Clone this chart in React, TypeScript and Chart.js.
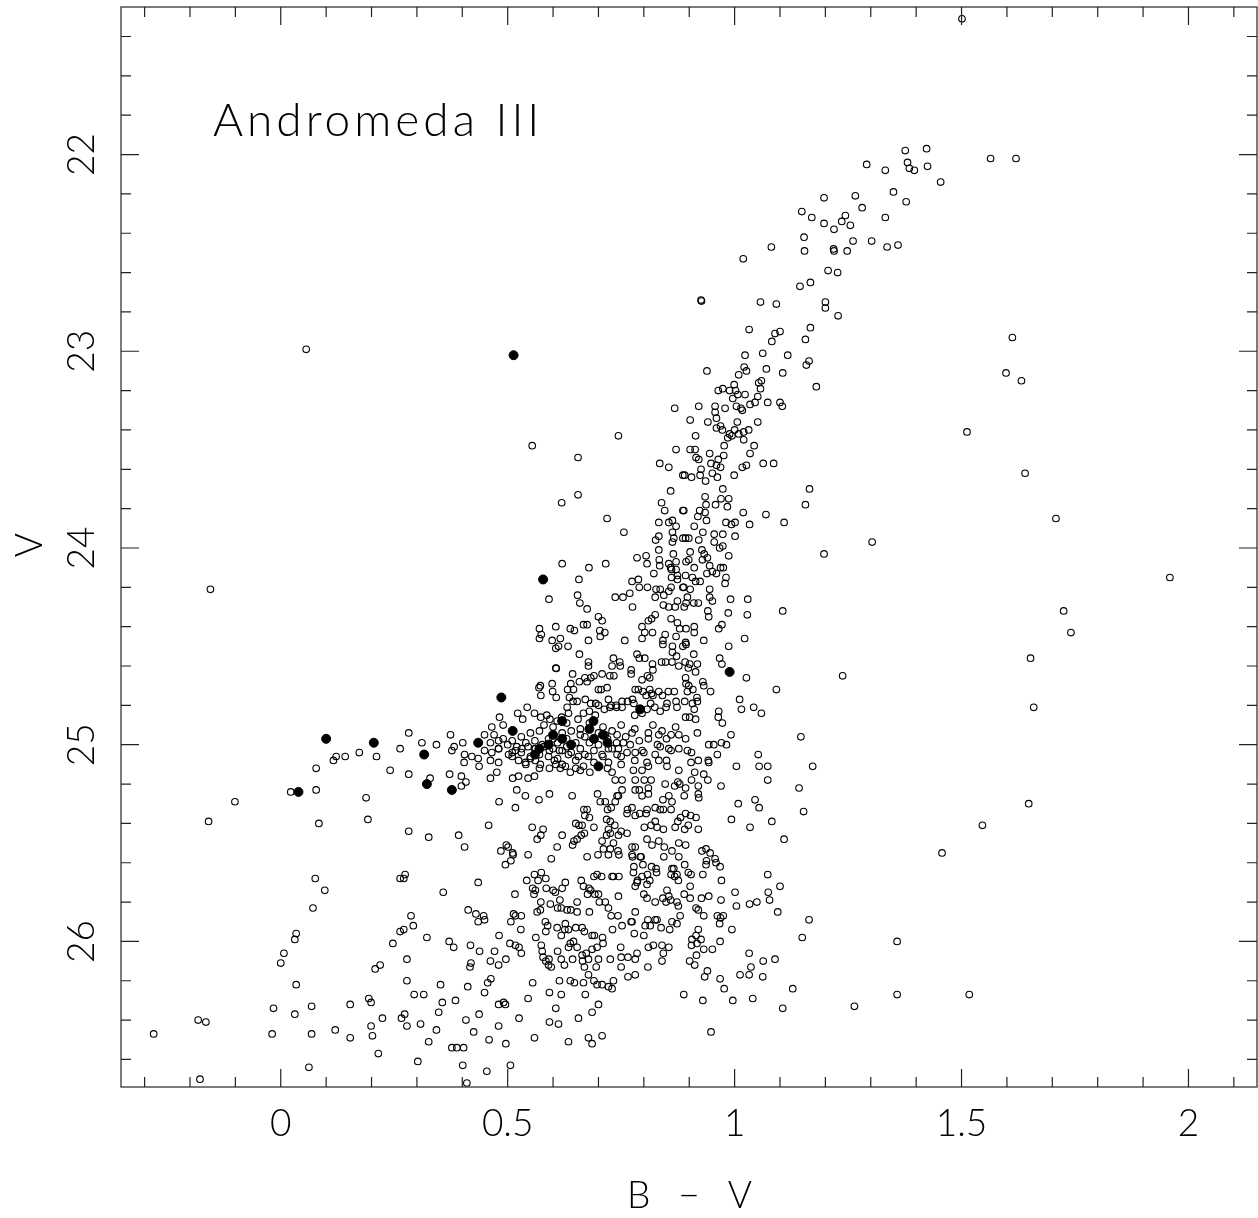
import React, { useEffect, useRef } from "react";
import { Chart, registerables } from "chart.js";
Chart.register(...registerables);

// Axis ranges (B-V horizontal, V vertical reversed)
const X_MIN = -0.352;
const X_MAX = 2.151;
const Y_MIN = 21.25;
const Y_MAX = 26.74;

const xMajorTicks = [0, 0.5, 1, 1.5, 2];
const yMajorTicks = [22, 23, 24, 25, 26];
const xTickLabels = ["0", "0.5", "1", "1.5", "2"];
const yTickLabels = ["22", "23", "24", "25", "26"];
const titleText = "Andromeda III";
const xTitle = "B \u2212 V";
const yTitle = "V";

// ---- open circles: [B-V, V] ----
const upperGiants: number[][] = [
  [1.501,21.31],[1.376,21.98],[1.423,21.97],[1.291,22.05],[1.332,22.08],[1.381,22.04],[1.385,22.07],[1.396,22.08],
  [1.425,22.06],[1.454,22.14],[1.197,22.22],[1.266,22.21],[1.350,22.19],[1.378,22.24],[1.281,22.27],[1.148,22.29],
  [1.170,22.32],[1.244,22.31],[1.236,22.34],[1.255,22.36],[1.197,22.35],[1.219,22.38],[1.332,22.32],[1.153,22.42],
  [1.154,22.49],[1.218,22.48],[1.219,22.49],[1.248,22.49],[1.261,22.44],[1.302,22.44],[1.336,22.47],[1.360,22.46],
  [1.081,22.47],[1.019,22.53],[1.206,22.59],[1.227,22.60],[1.144,22.67],[1.167,22.65],[0.926,22.74],[0.927,22.745],
  [1.057,22.75],[1.092,22.76],[1.200,22.75],[1.200,22.78],[1.228,22.82],[1.032,22.89],[1.089,22.91],[1.100,22.90],
  [1.167,22.88],[1.156,22.94],[1.082,22.95],[1.023,23.02],[1.062,23.01],[1.117,23.02],[1.164,23.05],[1.158,23.07],
  [1.021,23.08],[1.564,22.02],[1.620,22.02],[1.612,22.93],[0.056,22.99],
];

const redOutliers: number[][] = [
  [1.598,23.11],[1.632,23.15],[1.512,23.41],[1.640,23.62],[1.708,23.85],[1.959,24.15],[1.725,24.32],[1.741,24.43],
  [1.652,24.56],[1.659,24.81],[1.648,25.30],[1.546,25.41],[1.517,26.27],[1.457,25.55],[1.358,26.00],[1.358,26.27],
  [1.264,26.33],[1.303,23.97],[1.238,24.65],[-0.155,24.21],[1.197,24.03],[1.165,23.70],[1.156,23.78],[1.180,23.18],
];

const midGiants: number[][] = [
  [0.939,23.10],[1.009,23.12],[1.026,23.10],[1.070,23.09],[1.106,23.11],[0.964,23.20],[0.974,23.19],[0.999,23.17],
  [0.989,23.20],[1.002,23.20],[1.053,23.16],[1.059,23.15],[1.057,23.19],[1.007,23.22],[1.023,23.22],[0.996,23.24],
  [1.051,23.23],[0.921,23.28],[0.957,23.28],[0.979,23.29],[1.004,23.28],[1.014,23.29],[1.017,23.30],[1.034,23.27],
  [1.045,23.26],[1.073,23.26],[1.100,23.26],[1.105,23.28],[0.957,23.31],[0.902,23.35],[0.941,23.36],[0.960,23.34],
  [1.006,23.36],[1.051,23.36],[0.969,23.38],[0.960,23.39],[0.973,23.40],[1.000,23.40],[1.031,23.40],[0.989,23.42],
  [1.009,23.42],[1.020,23.41],[0.985,23.44],[0.994,23.43],[1.020,23.45],[0.914,23.43],[0.977,23.48],[1.043,23.48],
  [0.902,23.50],[0.913,23.50],[0.945,23.52],[0.976,23.53],[1.034,23.52],[0.915,23.54],[0.921,23.55],[0.964,23.55],
  [0.948,23.57],[0.960,23.58],[0.969,23.59],[1.026,23.58],[1.017,23.59],[1.063,23.57],[1.086,23.57],[0.926,23.60],
  [0.890,23.63],[0.905,23.64],[0.924,23.63],[0.951,23.62],[0.962,23.64],[0.999,23.63],[0.936,23.66],[0.974,23.70],
  [0.935,23.74],[0.937,23.78],[0.958,23.78],[0.970,23.75],[0.987,23.75],[0.984,23.79],[0.923,23.81],[0.935,23.82],
  [0.919,23.84],[0.888,23.81],[1.019,23.82],[1.069,23.83],[1.109,23.87],[0.938,23.86],[0.981,23.87],[0.993,23.88],
  [1.001,23.87],[1.033,23.88],[0.911,23.89],[0.930,23.92],[0.955,23.93],[0.974,23.93],[1.001,23.94],[0.892,23.95],
  [0.899,23.95],[0.921,23.96],[0.955,23.97],[0.967,24.00],[0.974,23.99],[0.902,24.02],[0.928,24.01],[0.933,24.03],
  [0.940,24.05],[0.987,24.04],[0.893,24.07],[0.899,24.06],[0.911,24.10],[0.929,24.06],[0.945,24.09],[0.951,24.12],
  [0.960,24.13],[0.969,24.10],[0.975,24.10],[0.939,24.13],[0.892,24.14],[0.907,24.15],[0.914,24.17],[0.924,24.17],
  [0.981,24.15],[0.979,24.18],[0.888,24.20],[0.902,24.21],[0.945,24.21],[0.896,24.25],[0.945,24.25],[0.951,24.27],
  [0.893,24.28],[0.910,24.28],[0.920,24.28],[0.991,24.26],[1.029,24.26],[0.889,24.30],[0.941,24.32],[0.986,24.33],
  [1.028,24.34],[0.943,24.35],[1.106,24.32],[0.893,24.41],[0.911,24.40],[0.911,24.43],[0.965,24.41],[0.972,24.39],
  [1.022,24.46],[0.932,24.47],[0.892,24.48],[0.893,24.49],[0.987,24.50],[0.910,24.54],[0.967,24.56],[0.972,24.59],
  [1.026,24.66],[1.092,24.72],[0.891,24.58],[0.901,24.59],[0.918,24.59],[0.898,24.61],[0.914,24.63],[0.892,24.66],
  [0.893,24.69],[0.930,24.68],[0.932,24.70],[0.899,24.70],[0.908,24.72],[0.896,24.73],[0.947,24.73],[0.917,24.76],
  [0.918,24.78],[0.890,24.78],[0.907,24.79],[1.011,24.77],[1.015,24.82],[1.042,24.81],[1.059,24.84],[0.911,24.82],
  [0.892,24.86],[0.901,24.86],[0.914,24.87],[0.965,24.83],[0.964,24.86],[0.973,24.89],
];

const brightBlue: number[][] = [
  [0.868,23.29],[0.744,23.43],[0.554,23.48],[0.871,23.50],[0.655,23.54],[0.835,23.57],[0.855,23.59],[0.886,23.63],
  [0.859,23.71],[0.655,23.73],[0.619,23.77],[0.839,23.77],[0.846,23.81],[0.886,23.81],[0.719,23.85],[0.833,23.87],
  [0.855,23.87],[0.863,23.86],[0.871,23.89],[0.756,23.92],[0.863,23.92],[0.826,23.96],[0.833,23.94],[0.863,23.97],
  [0.866,23.95],[0.886,23.95],[0.833,24.01],[0.865,24.03],[0.785,24.05],[0.805,24.04],[0.807,24.08],[0.834,24.06],
  [0.835,24.09],[0.855,24.08],[0.871,24.07],[0.859,24.10],[0.620,24.08],[0.679,24.10],[0.716,24.08],[0.822,24.13],
  [0.861,24.11],[0.871,24.11],[0.874,24.14],[0.861,24.15],[0.874,24.16],[0.657,24.16],[0.774,24.17],[0.788,24.16],
  [0.591,24.26],[0.654,24.24],[0.659,24.28],[0.675,24.31],[0.737,24.25],[0.754,24.25],[0.769,24.23],[0.775,24.30],
  [0.790,24.20],[0.808,24.20],[0.827,24.21],[0.836,24.21],[0.860,24.20],[0.886,24.20],[0.825,24.25],[0.844,24.24],
  [0.855,24.22],[0.843,24.29],[0.855,24.30],[0.869,24.30],[0.874,24.27],[0.860,24.36],[0.825,24.34],[0.817,24.36],
  [0.810,24.37],[0.796,24.40],[0.802,24.43],[0.819,24.43],[0.796,24.46],[0.847,24.44],[0.874,24.38],[0.871,24.45],
  [0.879,24.41],[0.842,24.47],[0.842,24.49],[0.863,24.50],[0.863,24.53],[0.872,24.55],[0.886,24.50],[0.700,24.35],
  [0.708,24.37],[0.667,24.39],[0.675,24.39],[0.703,24.42],[0.714,24.43],[0.704,24.45],[0.570,24.41],[0.606,24.40],
  [0.638,24.41],[0.647,24.42],[0.574,24.44],[0.570,24.46],[0.598,24.47],[0.612,24.50],[0.616,24.46],[0.606,24.51],
  [0.633,24.50],[0.678,24.47],[0.758,24.47],[0.658,24.54],[0.733,24.56],[0.747,24.58],[0.678,24.58],[0.678,24.60],
  [0.606,24.61],[0.607,24.612],[0.730,24.60],[0.748,24.60],[0.772,24.62],[0.785,24.54],[0.790,24.56],[0.802,24.56],
  [0.839,24.58],[0.848,24.58],[0.862,24.58],[0.877,24.60],[0.819,24.59],[0.820,24.62],[0.772,24.64],[0.808,24.65],
  [0.813,24.66],[0.796,24.67],[0.643,24.64],[0.670,24.66],[0.683,24.66],[0.690,24.65],[0.708,24.64],[0.725,24.65],
  [0.734,24.65],[0.675,24.68],[0.658,24.68],[0.700,24.72],[0.706,24.72],[0.719,24.71],[0.639,24.69],[0.645,24.72],
  [0.632,24.72],[0.598,24.69],[0.572,24.70],[0.569,24.71],[0.573,24.75],[0.599,24.73],[0.607,24.76],[0.636,24.76],
  [0.644,24.78],[0.653,24.78],[0.671,24.77],[0.683,24.79],[0.694,24.79],[0.722,24.77],[0.728,24.80],[0.739,24.80],
  [0.752,24.78],[0.764,24.78],[0.775,24.77],[0.778,24.79],[0.781,24.72],[0.788,24.72],[0.798,24.73],[0.813,24.72],
  [0.805,24.75],[0.817,24.74],[0.820,24.75],[0.833,24.73],[0.841,24.75],[0.854,24.73],[0.867,24.73],[0.871,24.78],
  [0.851,24.79],[0.815,24.79],[0.824,24.81],[0.836,24.83],[0.849,24.81],[0.873,24.81],[0.807,24.82],[0.796,24.84],
  [0.780,24.85],[0.752,24.81],[0.740,24.81],[0.725,24.81],[0.713,24.82],[0.700,24.80],[0.680,24.83],[0.693,24.85],
  [0.667,24.84],[0.655,24.87],[0.631,24.81],[0.634,24.84],[0.619,24.86],[0.609,24.88],[0.586,24.85],[0.593,24.87],
  [0.573,24.86],[0.559,24.84],[0.543,24.81],[0.522,24.84],[0.533,24.87],[0.482,24.86],[0.465,24.91],[0.490,24.90],
];

const horizontalBranch: number[][] = [
  [0.263,25.02],[0.173,25.04],[0.142,25.06],[0.122,25.06],[0.116,25.08],[0.211,25.06],[0.241,25.13],[0.078,25.12],
  [0.022,25.24],[0.078,25.23],[0.188,25.27],[-0.101,25.29],[-0.159,25.39],[0.084,25.40],[0.192,25.38],
  [0.282,24.94],[0.374,24.95],[0.311,24.99],[0.343,25.00],[0.377,25.03],[0.401,24.99],[0.382,25.01],[0.405,25.05],
  [0.404,25.09],[0.421,25.06],[0.435,25.07],[0.437,25.11],[0.282,25.15],[0.329,25.17],[0.372,25.15],[0.398,25.16],
  [0.408,25.19],[0.398,25.21],[0.449,25.03],[0.462,24.99],[0.480,24.98],[0.449,24.95],[0.465,25.04],[0.480,25.02],
  [0.462,25.08],[0.480,25.09],[0.476,25.14],[0.462,25.17],[0.481,25.29],[0.520,25.23],[0.517,25.32],[0.511,25.17],
  [0.524,25.16],[0.545,25.17],[0.559,25.16],[0.539,25.26],[0.569,25.28],[0.592,25.25],[0.642,25.26],
  [0.650,25.12],[0.638,25.14],[0.627,25.11],[0.616,25.12],[0.606,25.10],[0.603,25.08],[0.592,25.12],[0.572,25.10],
  [0.561,25.08],[0.550,25.06],[0.539,25.09],[0.524,25.08],[0.510,25.06],[0.502,25.05],[0.517,25.03],[0.531,25.02],
  [0.545,25.01],[0.561,25.02],[0.576,25.00],[0.592,25.03],[0.614,25.03],[0.634,25.05],[0.656,25.06],[0.678,25.06],
  [0.708,25.05],[0.722,25.02],[0.741,24.95],[0.715,24.95],[0.681,25.14],[0.667,25.11],
  [0.877,24.95],[0.860,24.95],[0.833,24.95],[0.810,24.94],[0.774,24.94],[0.755,24.99],[0.744,25.02],[0.781,25.04],
  [0.796,25.03],[0.763,25.04],[0.741,25.05],[0.722,25.09],[0.730,25.14],[0.752,25.18],[0.737,25.18],[0.825,25.05],
  [0.833,25.08],[0.850,25.08],[0.851,25.11],[0.855,25.02],[0.836,25.01],[0.877,25.13],[0.877,25.02],[0.807,25.09],
  [0.810,25.11],[0.796,25.13],[0.777,25.13],[0.781,25.18],[0.781,25.23],[0.790,25.23],[0.796,25.26],[0.810,25.25],
  [0.810,25.22],[0.801,25.18],[0.816,25.18],[0.847,25.20],[0.868,25.21],[0.875,25.19],[0.879,25.20],[0.842,25.28],
  [0.855,25.26],[0.862,25.29],[0.752,25.23],[0.744,25.26],[0.741,25.26],[0.737,25.29],[0.704,25.29],[0.698,25.25],
  [0.715,25.29],[0.720,25.33],[0.728,25.32],
];

// dense red clump region around V ~ 25 (estimated where circles overlap)
const redClump: number[][] = [
  [0.47,24.95],[0.49,24.97],[0.50,25.00],[0.51,24.98],[0.52,25.01],[0.53,24.96],[0.53,25.04],[0.54,24.99],
  [0.55,24.94],[0.55,25.07],[0.56,24.98],[0.57,24.93],[0.57,25.05],[0.58,25.01],[0.58,24.90],[0.59,24.97],
  [0.59,25.06],[0.60,25.02],[0.60,24.91],[0.61,24.99],[0.61,25.07],[0.62,24.94],[0.62,25.03],[0.63,24.97],
  [0.63,24.89],[0.64,25.04],[0.64,24.93],[0.65,24.99],[0.65,25.08],[0.66,24.92],[0.66,25.02],[0.67,24.96],
  [0.67,25.05],[0.68,24.99],[0.68,24.89],[0.69,25.03],[0.70,24.94],[0.70,25.00],[0.71,25.06],[0.71,24.91],
  [0.72,24.97],[0.73,25.02],[0.73,24.93],[0.74,24.99],[0.75,24.90],[0.75,25.06],[0.76,24.96],[0.77,25.00],
  [0.78,24.92],[0.79,24.98],[0.80,25.04],[0.81,24.97],[0.82,24.90],[0.83,25.00],[0.84,24.93],[0.85,24.97],
  [0.86,25.03],[0.87,24.91],[0.54,25.10],[0.57,25.12],[0.62,25.10],[0.66,25.13],[0.69,25.09],[0.72,25.12],
  [0.75,25.10],[0.78,25.08],[0.48,25.02],[0.51,25.04],[0.56,25.02],[0.60,24.97],[0.63,25.01],[0.66,24.95],
];

const faintBlue: number[][] = [
  [0.076,25.68],[0.097,25.74],[0.071,25.83],[0.263,25.68],[0.034,25.96],[0.031,25.99],[0.007,26.06],[0.000,26.11],
  [0.263,25.95],[0.247,26.01],[0.219,26.12],[0.208,26.14],[0.034,26.22],[-0.016,26.34],[0.031,26.37],[0.068,26.33],
  [0.153,26.32],[0.194,26.29],[0.199,26.31],[0.224,26.39],[0.266,26.39],[-0.182,26.40],[-0.165,26.41],[-0.280,26.47],
  [-0.019,26.47],[0.068,26.47],[0.120,26.45],[0.153,26.49],[0.199,26.43],[0.202,26.48],[0.215,26.57],[0.062,26.64],
  [-0.178,26.70],
  [0.458,25.41],[0.282,25.44],[0.326,25.47],[0.392,25.46],[0.405,25.52],[0.554,25.42],[0.578,25.43],[0.565,25.48],
  [0.573,25.46],[0.620,25.46],[0.609,25.52],[0.497,25.51],[0.501,25.52],[0.511,25.55],[0.512,25.56],[0.485,25.54],
  [0.545,25.56],[0.507,25.59],[0.495,25.61],[0.596,25.58],[0.274,25.66],[0.271,25.68],[0.358,25.75],[0.435,25.70],
  [0.516,25.76],[0.542,25.69],[0.559,25.66],[0.567,25.69],[0.555,25.73],[0.561,25.74],[0.558,25.76],[0.574,25.65],
  [0.584,25.68],[0.585,25.73],[0.600,25.74],[0.605,25.75],[0.620,25.73],[0.627,25.70],[0.615,25.79],[0.573,25.80],
  [0.594,25.81],[0.572,25.84],[0.565,25.85],[0.653,25.80],[0.680,25.85],[0.610,25.83],[0.618,25.83],[0.631,25.84],
  [0.639,25.84],[0.653,25.85],[0.662,25.69],[0.667,25.72],[0.679,25.73],[0.683,25.74],[0.690,25.67],[0.697,25.66],
  [0.707,25.67],[0.692,25.76],[0.676,25.76],[0.700,25.76],[0.702,25.80],[0.715,25.80],[0.722,25.83],[0.730,25.67],
  [0.733,25.67],[0.745,25.67],[0.744,25.77],[0.728,25.87],[0.743,25.87],[0.774,25.90],[0.781,25.85],[0.800,25.76],
  [0.807,25.78],[0.825,25.80],[0.842,25.78],[0.849,25.80],[0.855,25.77],[0.851,25.74],[0.859,25.79],[0.873,25.80],
  [0.876,25.82],[0.813,25.69],[0.807,25.71],[0.785,25.70],[0.781,25.72],[0.786,25.69],[0.796,25.67],[0.808,25.66],
  [0.828,25.65],[0.827,25.63],[0.860,25.66],[0.868,25.67],[0.876,25.69],[0.873,25.66],[0.862,25.63],[0.844,25.57],
  [0.866,25.63],[0.798,25.61],[0.817,25.62],[0.794,25.57],[0.775,25.57],[0.777,25.65],[0.778,25.62],[0.792,25.57],
  [0.877,25.57],[0.877,25.50],[0.862,25.54],[0.845,25.52],[0.833,25.49],[0.818,25.51],[0.807,25.48],[0.781,25.52],
  [0.774,25.52],[0.774,25.56],[0.763,25.45],[0.750,25.44],[0.744,25.46],[0.726,25.45],[0.722,25.43],[0.718,25.46],
  [0.708,25.49],[0.711,25.53],[0.726,25.53],[0.733,25.50],[0.743,25.54],[0.745,25.56],[0.722,25.56],[0.699,25.56],
  [0.675,25.57],[0.690,25.42],[0.669,25.45],[0.662,25.46],[0.653,25.48],[0.657,25.41],[0.650,25.40],[0.664,25.41],
  [0.643,25.51],[0.646,25.49],[0.670,25.36],[0.675,25.33],[0.668,25.33],[0.680,25.37],[0.718,25.38],[0.726,25.39],
  [0.736,25.41],[0.764,25.33],[0.763,25.35],[0.774,25.32],[0.781,25.36],[0.791,25.35],[0.805,25.35],[0.801,25.42],
  [0.816,25.41],[0.825,25.39],[0.829,25.42],[0.843,25.43],[0.869,25.42],[0.875,25.39],[0.881,25.37],[0.860,25.33],
  [0.843,25.33],[0.836,25.33],[0.825,25.32],[0.807,25.33],
];

const faintField: number[][] = [
  [0.873,25.91],[0.880,25.87],[0.862,25.90],[0.857,25.94],[0.838,25.93],[0.825,25.89],[0.809,25.89],[0.803,25.92],
  [0.814,25.92],[0.829,25.89],[0.800,25.97],[0.779,25.96],[0.772,25.90],[0.752,25.92],[0.731,25.94],[0.709,25.98],
  [0.710,26.01],[0.691,25.97],[0.686,25.97],[0.669,25.95],[0.664,25.93],[0.650,25.93],[0.634,25.94],[0.626,25.94],
  [0.609,25.93],[0.584,25.95],[0.588,25.92],[0.583,25.90],[0.627,25.91],[0.638,26.01],[0.645,26.00],[0.653,26.03],
  [0.664,26.07],[0.673,26.06],[0.686,26.04],[0.697,26.03],[0.700,26.09],[0.678,26.09],[0.665,26.10],[0.669,26.13],
  [0.695,26.13],[0.726,26.09],[0.749,26.03],[0.750,26.08],[0.765,26.08],[0.781,26.09],[0.785,26.06],[0.810,26.03],
  [0.821,26.02],[0.840,26.02],[0.855,26.03],[0.843,26.06],[0.840,26.10],[0.809,26.13],[0.781,26.17],[0.765,26.18],
  [0.750,26.13],[0.733,26.20],[0.722,26.23],[0.730,26.24],[0.708,26.22],[0.697,26.22],[0.690,26.20],[0.678,26.17],
  [0.667,26.21],[0.647,26.21],[0.638,26.20],[0.614,26.20],[0.592,26.26],[0.618,26.27],[0.671,26.27],[0.700,26.32],
  [0.686,26.36],[0.656,26.39],[0.606,26.34],[0.592,26.41],[0.612,26.42],[0.634,26.51],[0.678,26.49],[0.686,26.52],
  [0.708,26.48],[0.559,26.49],[0.545,26.29],[0.555,26.21],[0.525,26.39],[0.496,26.52],[0.506,26.63],[0.459,26.50],
  [0.480,26.43],[0.437,26.37],[0.425,26.46],[0.408,26.40],[0.401,26.63],[0.454,26.66],[0.410,26.72],[0.495,26.32],
  [0.491,26.31],[0.480,26.32],[0.449,26.26],[0.456,26.21],[0.463,26.19],[0.412,26.23],[0.385,26.30],[0.356,26.31],
  [0.348,26.36],[0.352,26.22],[0.315,26.27],[0.294,26.27],[0.278,26.20],[0.273,26.37],[0.278,26.43],[0.308,26.42],
  [0.343,26.45],[0.326,26.51],[0.377,26.54],[0.388,26.54],[0.403,26.54],[0.302,26.61],[0.417,26.13],[0.419,26.11],
  [0.438,26.05],[0.418,26.02],[0.381,26.03],[0.371,26.00],[0.322,25.98],[0.292,25.92],[0.287,25.87],[0.271,25.94],
  [0.278,26.09],[0.413,25.84],[0.430,25.86],[0.435,25.90],[0.447,25.87],[0.449,25.89],[0.481,25.97],[0.505,26.01],
  [0.517,26.02],[0.530,26.06],[0.525,26.03],[0.496,26.09],[0.471,26.05],[0.462,26.10],[0.480,26.12],[0.517,25.87],
  [0.513,25.86],[0.507,25.90],[0.530,25.87],[0.529,25.94],[0.562,25.98],[0.574,26.02],[0.576,26.05],[0.578,26.08],
  [0.584,26.10],[0.590,26.12],[0.596,26.13],[0.591,26.09],[0.610,26.05],[0.618,26.09],[0.625,26.12],[0.643,26.09],
  [0.618,25.97],[0.634,26.03],
];

const faintRed: number[][] = [
  [0.918,24.94],[0.992,24.95],[1.146,24.96],[0.892,24.97],[0.943,25.00],[0.954,25.00],[0.971,24.99],[0.982,25.00],
  [0.962,25.05],[0.896,25.03],[0.905,25.04],[1.052,25.05],[1.004,25.11],[1.054,25.11],[1.073,25.11],[1.172,25.11],
  [0.942,25.08],[0.943,25.09],[0.904,25.09],[0.920,25.08],[0.912,25.14],[0.932,25.15],[1.073,25.18],[0.941,25.18],
  [0.905,25.18],[1.142,25.22],[0.970,25.21],[0.920,25.21],[0.892,25.22],[0.920,25.25],[0.921,25.27],[0.889,25.26],
  [1.045,25.28],[1.008,25.30],[1.054,25.32],[1.152,25.34],[0.993,25.38],[1.082,25.39],[1.034,25.42],[1.109,25.48],
  [0.892,25.35],[0.903,25.36],[0.915,25.37],[0.898,25.41],[0.890,25.43],[0.920,25.43],[0.892,25.51],[0.928,25.54],
  [0.937,25.53],[0.946,25.55],[0.957,25.58],[0.938,25.59],[0.959,25.60],[0.937,25.61],[0.968,25.62],[0.890,25.61],
  [0.898,25.65],[0.904,25.66],[0.930,25.66],[1.073,25.66],[0.971,25.69],[0.902,25.72],[1.100,25.72],[1.001,25.75],
  [1.074,25.75],[0.889,25.76],[0.902,25.78],[0.927,25.78],[0.943,25.77],[0.970,25.79],[1.077,25.79],[1.033,25.81],
  [1.049,25.80],[1.004,25.82],[0.915,25.83],[0.920,25.84],[0.932,25.87],[0.962,25.87],[0.975,25.87],[0.969,25.88],
  [0.967,25.91],[1.095,25.85],[1.164,25.89],[0.994,25.94],[0.920,25.94],[0.915,25.97],[0.906,25.99],[0.926,25.99],
  [0.968,26.00],[1.149,25.98],[0.905,26.02],[0.917,26.01],[0.932,26.04],[0.951,26.04],[1.032,26.06],[0.916,26.07],
  [1.089,26.09],[1.063,26.10],[0.901,26.10],[0.912,26.12],[1.036,26.13],[0.940,26.15],[0.934,26.18],[1.012,26.17],
  [1.032,26.17],[1.062,26.18],[0.968,26.19],[1.128,26.24],[0.977,26.24],[0.888,26.27],[0.930,26.30],[0.996,26.30],
  [1.040,26.29],[1.106,26.34],[0.948,26.46],
];

// ---- filled circles ----
const filledStars: number[][] = [
  [0.513,23.02],[0.578,24.16],[0.486,24.76],[0.989,24.63],[0.100,24.97],[0.205,24.99],[0.039,25.24],[0.316,25.05],
  [0.322,25.20],[0.377,25.23],[0.435,24.99],[0.511,24.93],[0.792,24.82],[0.700,25.11],[0.620,24.88],[0.689,24.88],
  [0.570,25.02],[0.560,25.05],[0.590,25.00],[0.620,24.97],[0.600,24.95],[0.680,24.92],[0.690,24.97],[0.720,24.99],
  [0.710,24.95],[0.640,25.00],
];

const openStars = [
  ...upperGiants, ...redOutliers, ...midGiants, ...brightBlue,
  ...horizontalBranch, ...redClump, ...faintBlue, ...faintField, ...faintRed,
];

const FONT = "Lato, 'DejaVu Sans', sans-serif";

const framePlugin = {
  id: "cmdFrame",
  afterDatasetsDraw(chart: any) {
    const { ctx, chartArea: a, scales } = chart;
    const xs = scales.x;
    const ys = scales.y;
    ctx.save();
    ctx.strokeStyle = "#444";
    ctx.lineWidth = 1.4;
    ctx.strokeRect(a.left, a.top, a.right - a.left, a.bottom - a.top);
    ctx.strokeStyle = "#222";
    ctx.lineWidth = 1.2;
    ctx.beginPath();
    for (let i = -3; i <= 21; i++) {
      const v = i / 10;
      const px = xs.getPixelForValue(v);
      if (px < a.left + 1 || px > a.right - 1) continue;
      const len = i % 5 === 0 ? 18 : 10;
      ctx.moveTo(px, a.bottom); ctx.lineTo(px, a.bottom - len);
      ctx.moveTo(px, a.top); ctx.lineTo(px, a.top + len);
    }
    for (let i = 107; i <= 133; i++) {
      const v = i / 5;
      const py = ys.getPixelForValue(v);
      if (py < a.top + 1 || py > a.bottom - 1) continue;
      const len = i % 5 === 0 ? 18 : 10;
      ctx.moveTo(a.left, py); ctx.lineTo(a.left + len, py);
      ctx.moveTo(a.right, py); ctx.lineTo(a.right - len, py);
    }
    ctx.stroke();

    ctx.fillStyle = "#000";
    ctx.font = `300 37px ${FONT}`;
    ctx.textAlign = "center";
    ctx.textBaseline = "middle";
    xMajorTicks.forEach((v, i) => {
      ctx.fillText(xTickLabels[i], xs.getPixelForValue(v), 1124);
    });
    yMajorTicks.forEach((v, i) => {
      ctx.save();
      ctx.translate(82, ys.getPixelForValue(v));
      ctx.rotate(-Math.PI / 2);
      ctx.fillText(yTickLabels[i], 0, 0);
      ctx.restore();
    });
    ctx.save();
    (ctx as any).letterSpacing = "9px";
    ctx.fillText(xTitle, 694, 1196);
    ctx.restore();
    ctx.save();
    ctx.translate(30, 545);
    ctx.rotate(-Math.PI / 2);
    ctx.fillText(yTitle, 0, 0);
    ctx.restore();
    ctx.save();
    (ctx as any).letterSpacing = "4px";
    ctx.font = `300 46px ${FONT}`;
    ctx.textAlign = "left";
    ctx.fillText(titleText, 213, 121);
    ctx.restore();
    ctx.restore();
  },
};

export default function App() {
  const ref = useRef<HTMLCanvasElement>(null);
  useEffect(() => {
    if (!ref.current) return;
    const chart = new Chart(ref.current, {
      type: "scatter",
      data: {
        datasets: [
          {
            label: "stars",
            data: openStars.map(([x, y]) => ({ x, y })),
            pointStyle: "circle",
            pointRadius: 3.3,
            pointBorderWidth: 1.1,
            pointBackgroundColor: "rgba(255,255,255,0)",
            pointBorderColor: "#000",
          },
          {
            label: "variables",
            data: filledStars.map(([x, y]) => ({ x, y })),
            pointStyle: "circle",
            pointRadius: 4.5,
            pointBorderWidth: 1,
            pointBackgroundColor: "#000",
            pointBorderColor: "#000",
          },
        ],
      },
      options: {
        responsive: false,
        animation: false,
        events: [],
        layout: { autoPadding: false, padding: { left: 121, top: 7, right: 1, bottom: 131 } },
        plugins: { legend: { display: false }, tooltip: { enabled: false } },
        scales: {
          x: { type: "linear", min: X_MIN, max: X_MAX, display: false },
          y: { type: "linear", min: Y_MIN, max: Y_MAX, reverse: true, display: false },
        },
      },
      plugins: [framePlugin],
    });
    return () => chart.destroy();
  }, []);
  return (
    <div style={{ position: "absolute", left: 0, top: 0, width: 1258, height: 1218, background: "#fff" }}>
      <canvas ref={ref} width={1258} height={1218} style={{ display: "block" }} />
    </div>
  );
}
